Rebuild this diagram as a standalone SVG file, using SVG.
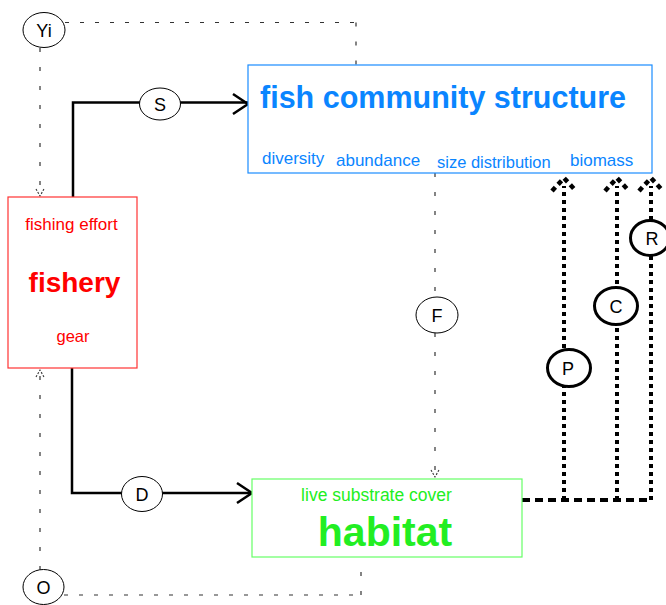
<svg xmlns="http://www.w3.org/2000/svg" width="666" height="605" viewBox="0 0 666 605">
  <style>
    text { font-family: "Liberation Sans", Arial, sans-serif; }
    .box { fill: #fff; stroke-width: 1.2; }
    .flow { fill: none; stroke: #000; stroke-width: 2.5; }
    .ctrl { fill: none; stroke: #333; stroke-width: 1.2; }
    .ctrl-h { stroke-dasharray: 4 11; }
    .ctrl-v { stroke-dasharray: 4 15; }
    .tip { fill: none; stroke: #333; stroke-width: 1.1; stroke-dasharray: 2 1.5; }
    .eff-v { fill: none; stroke: #000; stroke-width: 4; stroke-dasharray: 4 4; }
    .eff-h { fill: none; stroke: #000; stroke-width: 4; stroke-dasharray: 8 5; }
    .eff-tip { fill: none; stroke: #000; stroke-width: 4.5; stroke-dasharray: 5 4; }
    .lbl { fill: #fff; stroke: #000; stroke-width: 1; }
    .lbl-b { fill: #fff; stroke: #000; stroke-width: 3; }
    .lt { font-size: 18px; text-anchor: middle; fill: #000; }
    .blue { fill: #0a85ff; }
    .red { fill: #ff0000; }
    .green { fill: #22ee22; }
  </style>

  <!-- connectors -->
  <g id="connectors">
    <!-- Yi control links -->
    <path class="ctrl ctrl-h" d="M65,22.5 H356"/>
    <path class="ctrl ctrl-v" d="M356,22.5 V65"/>
    <path class="ctrl ctrl-v" d="M40,48 V195"/>
    <path class="tip" d="M36,189 L40,196 L44,189"/>

    <!-- O control links -->
    <path class="ctrl ctrl-h" d="M64,595 H361"/>
    <path class="ctrl ctrl-v" d="M361,595 V557"/>
    <path class="ctrl ctrl-v" d="M40,570 V370"/>
    <path class="tip" d="M36,377 L40,370 L44,377"/>

    <!-- F: fish community -> habitat -->
    <path class="ctrl ctrl-v" d="M435,173 V297"/>
    <path class="ctrl ctrl-v" d="M435,333 V476"/>
    <path class="tip" d="M431,470 L435,477 L439,470"/>

    <!-- S: fishery -> fish community -->
    <path class="flow" d="M73,197 V102.5 H248"/>
    <path class="flow" d="M233,94 L248,104 L233,114"/>

    <!-- D: fishery -> habitat -->
    <path class="flow" d="M72,368 V493 H252"/>
    <path class="flow" d="M237,483 L252,493 L237,503"/>

    <!-- P, C, R: habitat -> fish community -->
    <path class="eff-h" d="M522,500 H652"/>
    <path class="eff-v" d="M564,500 V186"/>
    <path class="eff-v" d="M617,500 V186"/>
    <path class="eff-v" d="M651,500 V186"/>
    <path class="eff-tip" d="M552,191 L564,178 L576,191"/>
    <path class="eff-tip" d="M605,191 L617,178 L629,191"/>
    <path class="eff-tip" d="M639,191 L651,178 L663,191"/>
  </g>

  <!-- fish community structure -->
  <g id="fish-community">
    <rect class="box" x="248" y="65" width="404" height="108" stroke="#1a8cff"/>
    <text class="blue" x="260" y="108" font-size="30.5" font-weight="bold">fish community structure</text>
    <text class="blue" x="262" y="164" font-size="17">diversity</text>
    <text class="blue" x="336" y="166" font-size="17">abundance</text>
    <text class="blue" x="437" y="168" font-size="16.5">size distribution</text>
    <text class="blue" x="570" y="166" font-size="17">biomass</text>
  </g>

  <!-- fishery -->
  <g id="fishery">
    <rect class="box" x="8" y="197" width="129" height="171" stroke="#ff3333"/>
    <text class="red" x="71.5" y="230" font-size="17" text-anchor="middle">fishing effort</text>
    <text class="red" x="74.5" y="292" font-size="28" font-weight="bold" text-anchor="middle">fishery</text>
    <text class="red" x="73" y="342" font-size="16.5" text-anchor="middle">gear</text>
  </g>

  <!-- habitat -->
  <g id="habitat">
    <rect class="box" x="252" y="479" width="270" height="78" stroke="#66ff66"/>
    <text class="green" x="376.5" y="501" font-size="17.5" text-anchor="middle">live substrate cover</text>
    <text class="green" x="385" y="546" font-size="41" font-weight="bold" text-anchor="middle">habitat</text>
  </g>

  <!-- link labels -->
  <g id="label-Yi">
    <ellipse class="lbl" cx="44" cy="30" rx="21" ry="17.5"/>
    <text class="lt" x="44" y="36.5">Yi</text>
  </g>
  <g id="label-S">
    <ellipse class="lbl" cx="160" cy="104" rx="20.5" ry="16"/>
    <text class="lt" x="160" y="110.5">S</text>
  </g>
  <g id="label-D">
    <ellipse class="lbl" cx="142" cy="494" rx="20.5" ry="17.5"/>
    <text class="lt" x="142" y="500.5">D</text>
  </g>
  <g id="label-F">
    <ellipse class="lbl" cx="437" cy="315" rx="21" ry="18"/>
    <text class="lt" x="437" y="321.5">F</text>
  </g>
  <g id="label-O">
    <ellipse class="lbl" cx="43.5" cy="587" rx="20.5" ry="17.5"/>
    <text class="lt" x="43.5" y="593.5">O</text>
  </g>
  <g id="label-P">
    <ellipse class="lbl-b" cx="569" cy="368" rx="21.5" ry="18.5"/>
    <text class="lt" x="568" y="375">P</text>
  </g>
  <g id="label-C">
    <ellipse class="lbl-b" cx="616" cy="306" rx="21.5" ry="18.5"/>
    <text class="lt" x="616" y="313">C</text>
  </g>
  <g id="label-R">
    <ellipse class="lbl-b" cx="650" cy="238" rx="19.5" ry="17.5"/>
    <text class="lt" x="652" y="245">R</text>
  </g>
</svg>
